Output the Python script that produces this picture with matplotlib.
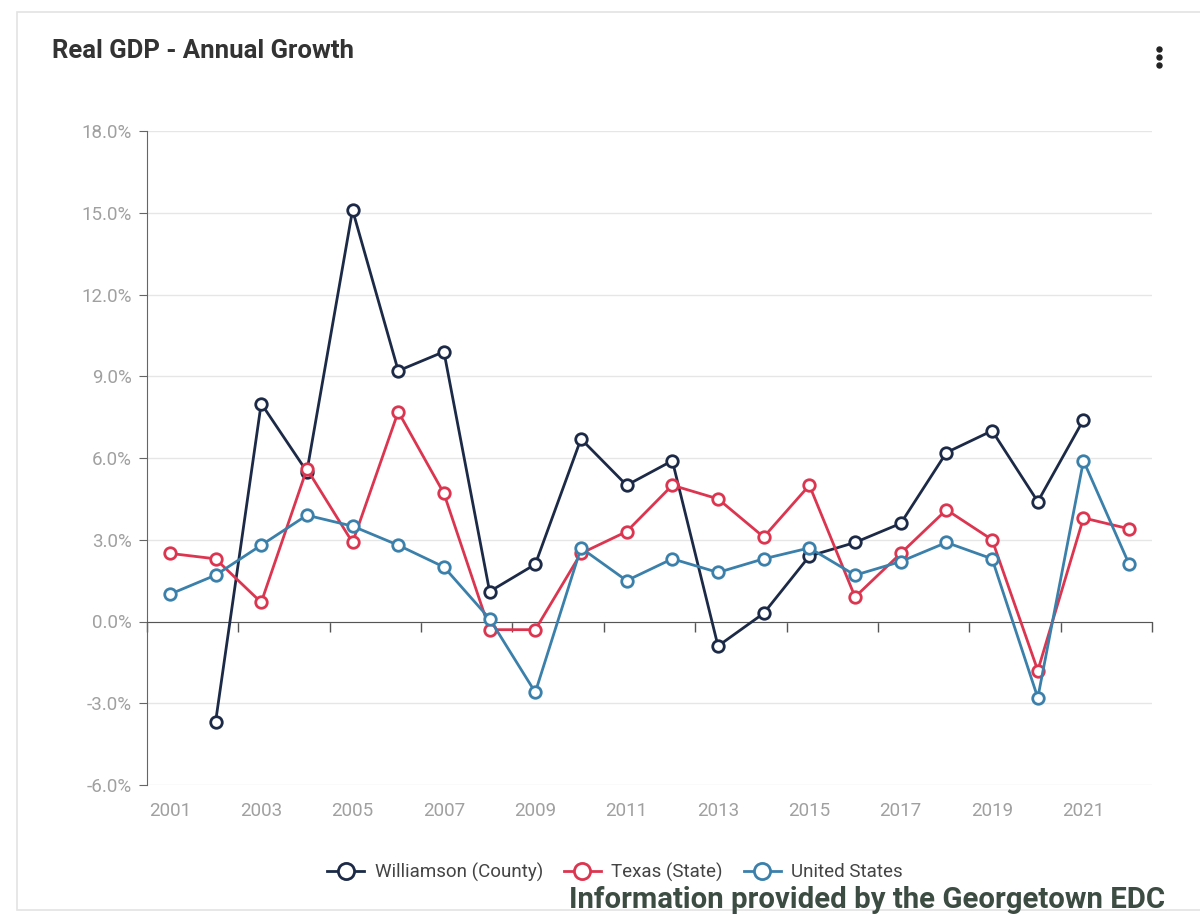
import matplotlib.pyplot as plt
import numpy as np
from matplotlib.patches import Rectangle
from matplotlib.lines import Line2D

plt.rcParams['font.family'] = ['Roboto', 'DejaVu Sans']

years = list(range(2001, 2023))
williamson = [None, -3.7, 8.0, 5.5, 15.1, 9.2, 9.9, 1.1, 2.1, 6.7, 5.0, 5.9,
              -0.9, 0.3, 2.4, 2.9, 3.6, 6.2, 7.0, 4.4, 7.4, None]
texas = [2.5, 2.3, 0.7, 5.6, 2.9, 7.7, 4.7, -0.3, -0.3, 2.5, 3.3, 5.0,
         4.5, 3.1, 5.0, 0.9, 2.5, 4.1, 3.0, -1.8, 3.8, 3.4]
united_states = [1.0, 1.7, 2.8, 3.9, 3.5, 2.8, 2.0, 0.1, -2.6, 2.7, 1.5, 2.3,
                 1.8, 2.3, 2.7, 1.7, 2.2, 2.9, 2.3, -2.8, 5.9, 2.1]
series_names = ['Williamson (County)', 'Texas (State)', 'United States']
series_colors = ['#1c2a47', '#dc3550', '#3a80ab']
y_ticks = [-6, -3, 0, 3, 6, 9, 12, 15, 18]
x_labels = list(range(2001, 2022, 2))


def to_array(vals):
    return np.array([np.nan if v is None else v for v in vals], dtype=float)


fig = plt.figure(figsize=(12, 9.15), dpi=100)

# card border
fig.patches.append(Rectangle((17 / 1200, 1 - 910 / 915), 1.2, (910 - 12) / 915,
                             transform=fig.transFigure, facecolor='white',
                             edgecolor='#e3e3e3', linewidth=1.2, zorder=-10))

ax = fig.add_axes([147 / 1200, 1 - 785 / 915, (1152 - 147) / 1200, (785 - 131) / 915])
ax.set_facecolor('none')

for vals, name, col in zip([williamson, texas, united_states], series_names, series_colors):
    ax.plot(years, to_array(vals), color=col, linewidth=2.0, marker='o',
            markersize=8.3, markerfacecolor='white', markeredgecolor=col,
            markeredgewidth=2, label=name, zorder=3)

ax.set_xlim(2000.5, 2022.5)
ax.set_ylim(-6, 18)
ax.set_yticks(y_ticks)
ax.set_yticklabels([f'{v:.1f}%' for v in y_ticks])
ax.grid(axis='y', color='#e6e6e6', linewidth=1)
ax.set_axisbelow(True)

for s in ['top', 'right']:
    ax.spines[s].set_visible(False)
ax.spines['left'].set_color('#666666')
ax.spines['bottom'].set_position(('data', 0))
ax.spines['bottom'].set_color('#555555')

# tick marks on the zero line at category boundaries
ax.set_xticks(np.arange(2000.5, 2023, 2))
ax.set_xticklabels([])
ax.tick_params(axis='x', direction='out', length=7, color='#555555', width=1)
ax.tick_params(axis='y', direction='out', length=6, color='#666666',
               labelcolor='#a0a0a0', labelsize=13.5, pad=5)

# year labels along the bottom
sec = ax.secondary_xaxis(0.0)
sec.set_xticks(x_labels)
sec.set_xticklabels([str(y) for y in x_labels])
sec.tick_params(length=0, labelcolor='#a0a0a0', labelsize=13.5, pad=12)
sec.spines['bottom'].set_visible(False)

fig.text(52 / 1200, 1 - 51 / 915, 'Real GDP - Annual Growth', fontsize=18.5,
         fontweight='bold', color='#333333', va='center', ha='left')

# menu dots
fig.lines.append(Line2D([1159 / 1200] * 3, [1 - 49 / 915, 1 - 57 / 915, 1 - 65 / 915],
                        transform=fig.transFigure, linestyle='none', marker='o',
                        markersize=3.6, color='#222222'))

leg = fig.legend(loc='center', bbox_to_anchor=(615 / 1200, 1 - 872 / 915), ncol=3,
                 frameon=False, fontsize=13.5, markerscale=1.4, handlelength=2.0,
                 columnspacing=1.1, handletextpad=0.55)
for t in leg.get_texts():
    t.set_color('#444444')

fig.text(1165 / 1200, 1 - 900 / 915, 'Information provided by the Georgetown EDC',
         fontsize=21.2, fontweight='bold', color='#3c4c43', ha='right', va='center')

fig.savefig('out.png', dpi=100)
